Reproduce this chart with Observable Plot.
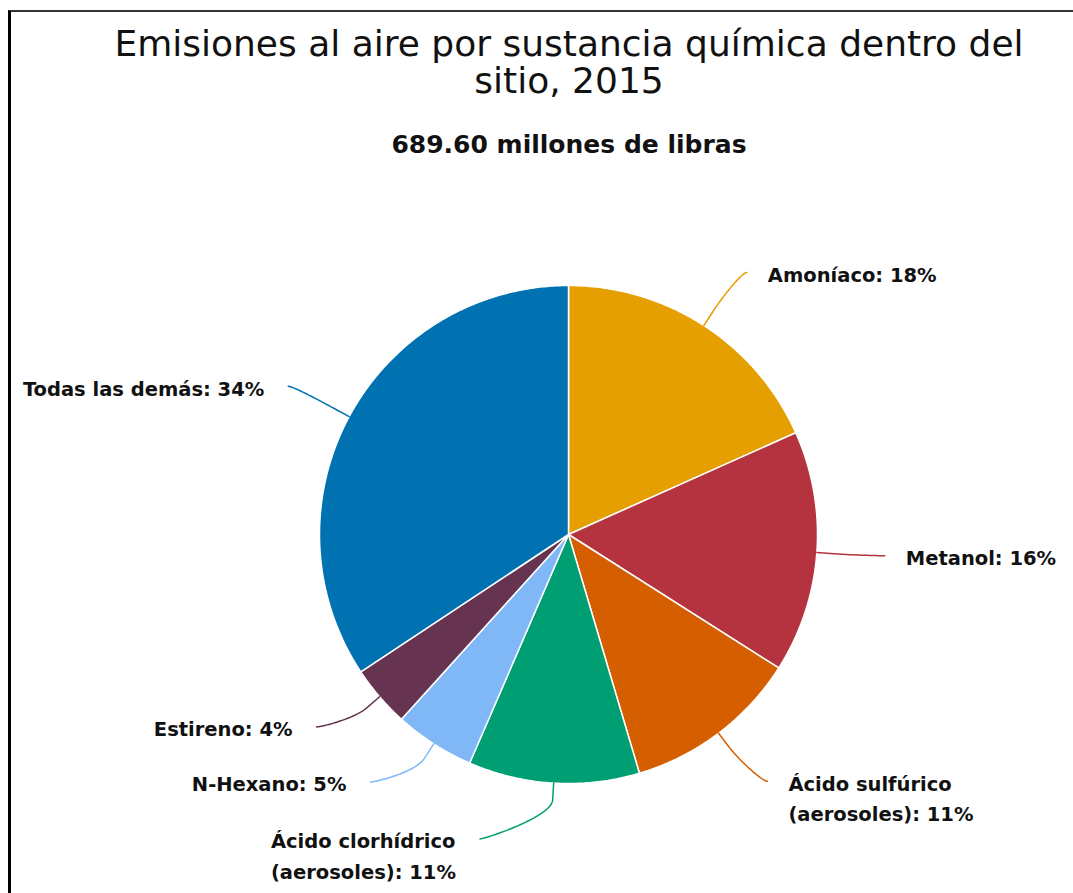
<!DOCTYPE html>
<html>
<head>
<meta charset="utf-8">
<script src="https://cdn.jsdelivr.net/npm/d3@7"></script>
<script src="https://cdn.jsdelivr.net/npm/@observablehq/plot@0.6"></script>
<style>
  html, body { margin: 0; padding: 0; background: #fff; width: 1073px; height: 893px; overflow: hidden; }
  #frame { position: absolute; left: 8px; top: 10px; width: 1065px; height: 883px; box-sizing: border-box;
           border-left: 3px solid #000; border-top: 2px solid #333; }
  #title { position: absolute; left: 0; top: 25px; width: 1138px; text-align: center;
           font-family: "DejaVu Sans", sans-serif; font-size: 36px; line-height: 37px; color: #111; }
  #subtitle { position: absolute; left: 0; top: 130px; width: 1138px; text-align: center;
              font-family: "DejaVu Sans", sans-serif; font-size: 25px; font-weight: bold; color: #111; }
  #chart { position: absolute; left: 0; top: 180px; }
</style>
</head>
<body>
<div id="frame"></div>
<div id="title">Emisiones al aire por sustancia química dentro del<br>sitio, 2015</div>
<div id="subtitle"></div>
<div id="chart"></div>
<script>
// ---- data ----
const categories = ["Amoníaco", "Metanol", "Ácido sulfúrico\n(aerosoles)", "Ácido clorhídrico\n(aerosoles)", "N-Hexano", "Estireno", "Todas las demás"];
const values = [126.2, 108.3, 78.6, 76.5, 35.9, 27.6, 236.5]; // millones de libras
const colors = ["#E69F00", "#B5333F", "#D55E00", "#009E73", "#80B8F7", "#663351", "#0072B2"];
const unitLabel = "millones de libras";

// ---- layout (not data) ----
const W = 1073, H = 713;
const cx = 568, cy = 354, R = 249;          // pie centre / radius in px
const labelRadius = 317 / R;                // connector end circle (in pie radii)
const breakRadius = 266 / R;                // elbow of connector
const labelShiftDeg = [1.3, -0.3, -1.8, 12.8, 5.9, 3.3, -0.4];
const textGapRight = 21, textGapLeft = 24;
const fontSize = 19.5;
const fontFamily = "DejaVu Sans";

const total = d3.sum(values);
document.getElementById("subtitle").textContent = total.toFixed(2) + " " + unitLabel;

const rows = categories.map((c, i) => ({name: c, value: values[i], color: colors[i]}));
const arcs = d3.pie().sort(null).value(d => d.value)(rows);

const pt = (a, r) => ({x: Math.sin(a) * r, y: -Math.cos(a) * r});

// slices as closed polygons in pie units
const slices = arcs.map(a => {
  const pts = [{x: 0, y: 0}];
  const n = Math.max(2, Math.ceil((a.endAngle - a.startAngle) / (Math.PI / 360)));
  for (let k = 0; k <= n; k++) pts.push(pt(a.startAngle + (a.endAngle - a.startAngle) * k / n, 1));
  pts.push({x: 0, y: 0});
  return {color: a.data.color, pts};
});

// connectors + labels
const ctx = document.createElement("canvas").getContext("2d");
ctx.font = `bold ${fontSize}px "${fontFamily}"`;
const labels = [];
const connectors = arcs.map((a, i) => {
  const mid = (a.startAngle + a.endAngle) / 2;
  const T = pt(mid, 1);
  const B = pt(mid, breakRadius);
  const endA = mid + labelShiftDeg[i] * Math.PI / 180;
  const E = pt(endA, labelRadius);
  const right = E.x >= 0;
  const P1 = {x: E.x + (right ? -5 : 5) / R, y: E.y};
  const P2 = {x: 2 * B.x - T.x, y: 2 * B.y - T.y};
  const pts = [];
  for (let k = 0; k <= 30; k++) {
    const t = k / 30, u = 1 - t;
    pts.push({
      x: u*u*u*E.x + 3*u*u*t*P1.x + 3*u*t*t*P2.x + t*t*t*B.x,
      y: u*u*u*E.y + 3*u*u*t*P1.y + 3*u*t*t*P2.y + t*t*t*B.y
    });
  }
  pts.push(T);
  const pct = Math.round(a.data.value / total * 100);
  const text = a.data.name + ": " + pct + "%";
  const w = d3.max(text.split("\n"), s => ctx.measureText(s).width);
  labels.push({x: E.x, y: E.y, text, dx: right ? textGapRight : -(textGapLeft + w)});
  return {color: a.data.color, pts};
});

const marks = [];
slices.forEach(s => marks.push(Plot.line(s.pts, {x: "x", y: "y", fill: s.color, stroke: "#fff", strokeWidth: 1.5, strokeLinejoin: "miter"})));
connectors.forEach(c => marks.push(Plot.line(c.pts, {x: "x", y: "y", stroke: c.color, strokeWidth: 1.5})));
labels.forEach(l => marks.push(Plot.text([l], {
  x: "x", y: "y", text: "text", dx: l.dx,
  textAnchor: "start", lineAnchor: "top", dy: -12, lineHeight: 1.55,
  fontSize, fontWeight: "bold", fontFamily, fill: "#111"
})));

const chart = Plot.plot({
  width: W, height: H,
  margin: 0,
  x: {domain: [(0 - cx) / R, (W - cx) / R], range: [0, W], axis: null},
  y: {domain: [(0 - cy) / R, (H - cy) / R], range: [0, H], axis: null},
  style: {background: "transparent", overflow: "visible"},
  marks
});
document.getElementById("chart").appendChild(chart);
</script>
</body>
</html>
